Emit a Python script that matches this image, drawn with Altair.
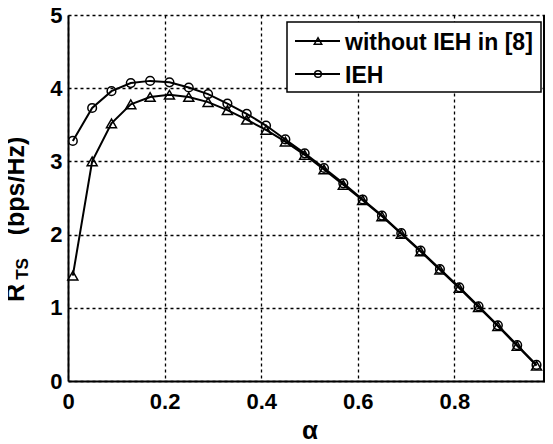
import altair as alt
import pandas as pd

# ---------------- data ----------------
alpha = [0.01, 0.05, 0.09, 0.13, 0.17, 0.21, 0.25, 0.29, 0.33, 0.37, 0.41, 0.45, 0.49,
         0.53, 0.57, 0.61, 0.65, 0.69, 0.73, 0.77, 0.81, 0.85, 0.89, 0.93, 0.97]
r_without = [1.44, 3.00, 3.52, 3.78, 3.88, 3.91, 3.88, 3.81, 3.70, 3.57, 3.43, 3.27, 3.09,
             2.89, 2.68, 2.47, 2.25, 2.01, 1.77, 1.52, 1.27, 1.01, 0.75, 0.48, 0.21]
r_ieh = [3.28, 3.73, 3.96, 4.07, 4.10, 4.08, 4.01, 3.92, 3.79, 3.65, 3.49, 3.30, 3.11,
         2.91, 2.70, 2.48, 2.26, 2.02, 1.78, 1.53, 1.28, 1.02, 0.76, 0.49, 0.22]
series_names = ["without IEH in [8]", "IEH"]
x_ticks = [0, 0.2, 0.4, 0.6, 0.8, 1]
y_ticks = [0, 1, 2, 3, 4, 5]

df = pd.DataFrame({
    "alpha": alpha * 2,
    "rate": r_without + r_ieh,
    "series": [series_names[0]] * len(alpha) + [series_names[1]] * len(alpha),
})
one = pd.DataFrame({"a": [0]})

W, H = 477, 366      # visible plot area (the page cuts the right edge)
XR = 483             # pixel length of the full 0..1 x range
FONT = "Liberation Sans"

x_enc = alt.X("alpha:Q", scale=alt.Scale(domain=[0, 1], nice=False, range=[0, XR]),
              axis=alt.Axis(values=x_ticks, format="~g", title="α",
                            titleFontSize=26, titlePadding=5, labelPadding=10,
                            titleX=241.5))
y_enc = alt.Y("rate:Q", scale=alt.Scale(domain=[0, 5], nice=False),
              axis=alt.Axis(values=y_ticks, format="~g", title=None, labelPadding=6))

lines = alt.Chart(df).mark_line(color="black", strokeWidth=2).encode(
    x=x_enc, y=y_enc, detail="series:N", order="alpha:Q")

tri = alt.Chart(df).transform_filter(alt.datum.series == series_names[0]).mark_point(
    shape="triangle-up", size=100, filled=False, color="black", strokeWidth=1.5, opacity=1
).encode(x="alpha:Q", y="rate:Q")

circ = alt.Chart(df).transform_filter(alt.datum.series == series_names[1]).mark_point(
    shape="circle", size=75, filled=False, color="black", strokeWidth=1.5, opacity=1
).encode(x="alpha:Q", y="rate:Q")

right_border = alt.Chart(one).mark_rule(color="black", strokeWidth=2).encode(
    x=alt.value(W - 1), y=alt.value(0), y2=alt.value(H))

# ---------------- legend (drawn by hand: line + marker symbols) ----------------
leg_box = alt.Chart(one).mark_rect(fill="white", stroke="black", strokeWidth=1.5).encode(
    x=alt.value(219), x2=alt.value(473), y=alt.value(7), y2=alt.value(77))
leg_line1 = alt.Chart(one).mark_rule(color="black", strokeWidth=2).encode(
    x=alt.value(227), x2=alt.value(272), y=alt.value(26))
leg_line2 = alt.Chart(one).mark_rule(color="black", strokeWidth=2).encode(
    x=alt.value(227), x2=alt.value(272), y=alt.value(59))
leg_tri = alt.Chart(one).mark_point(shape="triangle-up", size=55, filled=False,
                                    color="black", strokeWidth=1.5, opacity=1).encode(
    x=alt.value(250), y=alt.value(26))
leg_circ = alt.Chart(one).mark_point(shape="circle", size=45, filled=False,
                                     color="black", strokeWidth=1.5, opacity=1).encode(
    x=alt.value(250), y=alt.value(59))
leg_txt1 = alt.Chart(one).mark_text(text=series_names[0], align="left", baseline="middle",
                                    font=FONT, fontSize=23, fontWeight="bold", color="black").encode(
    x=alt.value(277), y=alt.value(28))
leg_txt2 = alt.Chart(one).mark_text(text=series_names[1], align="left", baseline="middle",
                                    font=FONT, fontSize=23, fontWeight="bold", color="black").encode(
    x=alt.value(277), y=alt.value(61))

# ---------------- y title with subscript ----------------
yt_r = alt.Chart(one).mark_text(text="R", angle=270, align="center", baseline="alphabetic",
                                font=FONT, fontSize=25, fontWeight="bold", color="black").encode(
    x=alt.value(-44), y=alt.value(278))
yt_ts = alt.Chart(one).mark_text(text="TS", angle=270, align="center", baseline="alphabetic",
                                 font=FONT, fontSize=17, fontWeight="bold", color="black").encode(
    x=alt.value(-40), y=alt.value(254))
yt_unit = alt.Chart(one).mark_text(text="(bps/Hz)", angle=270, align="center", baseline="alphabetic",
                                   font=FONT, fontSize=25, fontWeight="bold", color="black").encode(
    x=alt.value(-44), y=alt.value(171))

chart = alt.layer(
    lines, tri, circ, right_border,
    leg_box, leg_line1, leg_line2, leg_tri, leg_circ, leg_txt1, leg_txt2,
    yt_r, yt_ts, yt_unit,
).properties(
    width=W, height=H,
    autosize=alt.AutoSizeParams(type="none"),
    padding={"left": 60, "top": 7, "right": 0, "bottom": 63},
    background="white",
).configure_view(stroke=None).configure_axis(
    labelFont=FONT, labelFontSize=22, labelFontWeight="bold", labelColor="black",
    titleFont=FONT, titleFontWeight="bold", titleColor="black",
    labelFlush=False, labelOverlap=False, labelBound=False,
    ticks=False, tickSize=0,
    domain=True, domainColor="black", domainWidth=2,
    grid=True, gridColor="black", gridDash=[3, 3], gridWidth=1.3, gridOpacity=1,
)

chart.save("out.html", embed_options={"renderer": "svg", "actions": False})
